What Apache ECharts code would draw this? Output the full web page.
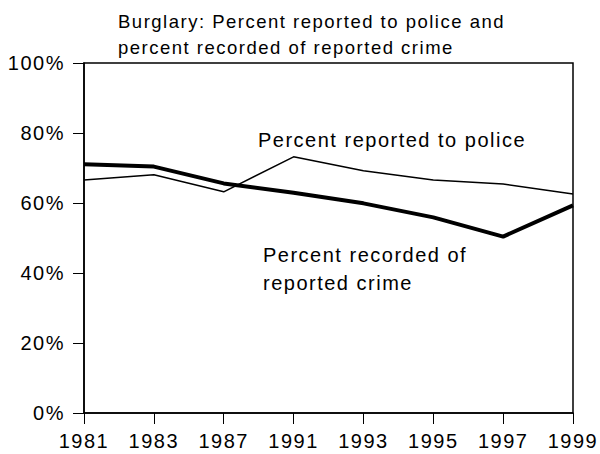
<!DOCTYPE html>
<html><head><meta charset="utf-8">
<script src="https://cdn.jsdelivr.net/npm/echarts@6/dist/echarts.min.js"></script>
<style>html,body{margin:0;padding:0;background:#fff}#c{width:600px;height:454px}#c text{letter-spacing:1.5px}</style>
</head><body><div id="c"></div>
<script>
const years = ['1981','1983','1987','1991','1993','1995','1997','1999'];
const reported = [66.6, 68.1, 63.2, 73.2, 69.2, 66.6, 65.4, 62.6];
const recorded = [71.1, 70.4, 65.6, 62.9, 59.9, 55.9, 50.4, 59.3];
const titleLines = ['Burglary: Percent reported to police and', 'percent recorded of reported crime'];
const labelReported = 'Percent reported to police';
const labelRecorded = ['Percent recorded of', 'reported crime'];

const font = 'Liberation Sans, Arial, sans-serif';
const chart = echarts.init(document.getElementById('c'), null, {renderer: 'svg'});
chart.setOption({
  animation: false,
  backgroundColor: '#fff',
  title: {
    text: titleLines.join('\n'), left: 113, top: 3,
    textStyle: {fontFamily: font, fontSize: 18.5, fontWeight: 'normal', color: '#000', lineHeight: 26}
  },
  grid: {left: 84, right: 27, top: 63, bottom: 41, show: true, borderColor: '#000', borderWidth: 1.5, backgroundColor: 'transparent'},
  xAxis: {
    type: 'category', data: years, boundaryGap: false,
    axisLine: {lineStyle: {color: '#000', width: 1.5}},
    axisTick: {show: true, length: 11, alignWithLabel: true, lineStyle: {color: '#000', width: 1}},
    axisLabel: {color: '#000', fontFamily: font, fontSize: 20, margin: 18},
    splitLine: {show: false}
  },
  yAxis: {
    type: 'value', min: 0, max: 100, interval: 20,
    axisLine: {show: true, lineStyle: {color: '#000', width: 1.5}},
    axisTick: {show: true, length: 11, lineStyle: {color: '#000', width: 1}},
    axisLabel: {color: '#000', fontFamily: font, fontSize: 20, margin: 19, formatter: '{value}%'},
    splitLine: {show: false}
  },
  series: [
    {type: 'line', data: reported, symbol: 'none', lineStyle: {color: '#000', width: 1.5}},
    {type: 'line', data: recorded, symbol: 'none', lineStyle: {color: '#000', width: 4}}
  ],
  graphic: [
    {type: 'text', left: 258, top: 130, style: {text: labelReported, font: '20px ' + font, fill: '#000'}},
    {type: 'text', left: 263, top: 241, style: {text: labelRecorded.join('\n'), font: '20px ' + font, fill: '#000', lineHeight: 28}}
  ]
});
</script></body></html>
